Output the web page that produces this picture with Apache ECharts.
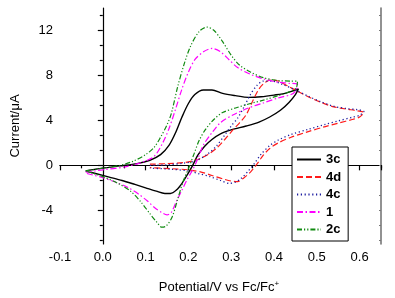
<!DOCTYPE html>
<html>
<head>
<meta charset="utf-8">
<script src="https://cdn.jsdelivr.net/npm/echarts@6/dist/echarts.min.js"></script>
<style>
  html, body { margin: 0; padding: 0; background: #fff; }
  #chart { width: 395px; height: 298px; }
</style>
</head>
<body>
<div id="chart"></div>
<script>
// cyclic voltammograms, [potential V vs Fc/Fc+, current uA]
const cv3c = [
  [-0.04, -0.5], [0.0, -0.25], [0.04, -0.05], [0.08, 0.15], [0.11, 0.45], [0.135, 0.95],
  [0.155, 1.8], [0.17, 2.9], [0.185, 4.3], [0.2, 5.5], [0.215, 6.3], [0.235, 6.7],
  [0.255, 6.7], [0.28, 6.4], [0.31, 6.2], [0.34, 6.05], [0.37, 6.1], [0.4, 6.25],
  [0.43, 6.45], [0.457, 6.8],
  [0.45, 6.3], [0.435, 5.6], [0.415, 4.9], [0.39, 4.3], [0.365, 3.85], [0.335, 3.5],
  [0.3, 3.15], [0.275, 2.8], [0.255, 2.3], [0.238, 1.7], [0.222, 0.9], [0.21, 0.0],
  [0.198, -0.8], [0.185, -1.6], [0.172, -2.2], [0.158, -2.5], [0.145, -2.5], [0.125, -2.3],
  [0.1, -2.0], [0.075, -1.7], [0.045, -1.35], [0.015, -1.05], [-0.015, -0.75], [-0.04, -0.5]
]
const cv4d = [
  [0.11, 0.1], [0.15, 0.15], [0.19, 0.25], [0.22, 0.5], [0.245, 0.95], [0.265, 1.5],
  [0.285, 2.3], [0.305, 3.2], [0.32, 3.8], [0.335, 4.5], [0.35, 5.7], [0.365, 6.8],
  [0.38, 7.4], [0.395, 7.6], [0.41, 7.5], [0.43, 7.1], [0.455, 6.6], [0.48, 6.1],
  [0.51, 5.6], [0.54, 5.2], [0.57, 5.0], [0.595, 4.85], [0.61, 4.7],
  [0.6, 4.3], [0.585, 4.1], [0.55, 3.75], [0.52, 3.45], [0.48, 3.0], [0.44, 2.5],
  [0.41, 2.0], [0.39, 1.5], [0.375, 0.9], [0.36, 0.1], [0.345, -0.6], [0.33, -1.1],
  [0.315, -1.45], [0.3, -1.4], [0.28, -1.2], [0.255, -0.9], [0.23, -0.6], [0.2, -0.4],
  [0.16, -0.3], [0.11, -0.2]
]
const cv4c = [
  [0.11, 0.0], [0.15, 0.05], [0.19, 0.2], [0.22, 0.45], [0.245, 1.0], [0.265, 1.7],
  [0.285, 2.7], [0.3, 3.5], [0.315, 4.2], [0.33, 5.2], [0.345, 6.3], [0.36, 7.1],
  [0.375, 7.5], [0.395, 7.5], [0.42, 7.2], [0.45, 6.7], [0.48, 6.15], [0.51, 5.65],
  [0.54, 5.25], [0.57, 5.05], [0.595, 4.95], [0.61, 4.8],
  [0.6, 4.45], [0.585, 4.3], [0.55, 3.95], [0.52, 3.65], [0.48, 3.2], [0.44, 2.75],
  [0.41, 2.25], [0.39, 1.75], [0.37, 1.0], [0.355, 0.2], [0.34, -0.5], [0.325, -1.1],
  [0.31, -1.5], [0.295, -1.6], [0.275, -1.35], [0.25, -1.0], [0.225, -0.75], [0.2, -0.5],
  [0.16, -0.35], [0.11, -0.25]
]
const cv1 = [
  [-0.04, -0.6], [0.0, -0.4], [0.05, -0.15], [0.09, 0.25], [0.12, 0.8], [0.14, 2.0],
  [0.155, 3.3], [0.17, 5.0], [0.185, 6.8], [0.2, 8.3], [0.215, 9.4], [0.235, 10.1],
  [0.255, 10.4], [0.275, 10.1], [0.295, 9.4], [0.315, 8.7], [0.345, 8.1], [0.375, 7.7],
  [0.41, 7.4], [0.435, 7.3], [0.455, 7.2],
  [0.45, 6.6], [0.44, 6.3], [0.41, 6.0], [0.375, 5.55], [0.34, 5.1], [0.305, 4.5],
  [0.275, 3.8], [0.255, 2.9], [0.235, 1.8], [0.222, 0.6], [0.21, -0.4], [0.198, -1.2],
  [0.185, -2.2], [0.172, -3.2], [0.16, -4.2], [0.15, -4.4], [0.138, -4.2], [0.122, -3.8],
  [0.105, -3.2], [0.085, -2.6], [0.06, -2.0], [0.03, -1.5], [0.0, -1.1], [-0.04, -0.7]
]
const cv2c = [
  [-0.04, -0.5], [0.0, -0.25], [0.04, 0.0], [0.07, 0.35], [0.1, 0.95], [0.12, 1.6],
  [0.135, 2.5], [0.15, 3.6], [0.16, 4.6], [0.175, 7.0], [0.19, 9.0], [0.205, 10.6],
  [0.225, 11.9], [0.243, 12.3], [0.26, 12.0], [0.28, 11.0], [0.3, 9.8], [0.32, 8.9],
  [0.345, 8.3], [0.375, 7.8], [0.41, 7.55], [0.44, 7.5], [0.455, 7.5],
  [0.452, 6.9], [0.44, 6.6], [0.41, 6.2], [0.375, 5.8], [0.345, 5.5], [0.31, 5.1],
  [0.28, 4.7], [0.26, 4.1], [0.24, 3.2], [0.225, 2.2], [0.213, 1.0], [0.2, -0.3],
  [0.188, -1.4], [0.175, -3.0], [0.162, -4.6], [0.148, -5.4], [0.138, -5.5], [0.125, -5.0],
  [0.11, -4.3], [0.09, -3.3], [0.065, -2.3], [0.035, -1.6], [0.0, -1.0], [-0.04, -0.5]
]

const yLabels = [-4, 0, 4, 8, 12]
const yMinor = [-6.667, -5.333, -2.667, -1.333, 1.333, 2.667, 5.333, 6.667, 9.333, 10.667, 13.333]

const font = 'Liberation Sans, Arial, sans-serif'
const black = { color: '#000', width: 1.2 }

function cvSeries (name, data, color, type, width) {
  return {
    name,
    type: 'line',
    data,
    smooth: 0.3,
    symbol: 'none',
    lineStyle: { color, type, width },
    itemStyle: { color },
    z: 3
  }
}

const chart = echarts.init(document.getElementById('chart'), null, { renderer: 'canvas' })
chart.setOption({
  animation: false,
  backgroundColor: '#fff',
  grid: { left: 60, top: 8, right: 14, bottom: 54, containLabel: false },
  xAxis: [
    {
      type: 'value', position: 'bottom', min: -0.1, max: 0.65, interval: 0.1,
      axisLine: { lineStyle: black },
      axisTick: { length: 5, lineStyle: black },
      minorTick: { show: true, splitNumber: 2, length: 3, lineStyle: black },
      splitLine: { show: false },
      axisLabel: {
        fontFamily: font, fontSize: 13, color: '#000', margin: 7,
        showMaxLabel: false,
        formatter: (v) => {
          const r = Math.round(v * 10)
          if (Math.abs(v * 10 - r) > 0.01) return ''
          return (r / 10).toFixed(1)
        }
      }
    },
    {
      type: 'value', position: 'top', min: -0.1, max: 0.65,
      axisLine: { lineStyle: black },
      axisTick: { show: false }, axisLabel: { show: false }, splitLine: { show: false }
    }
  ],
  yAxis: [
    {
      type: 'value', position: 'left', min: -7, max: 14,
      axisLine: { show: true, lineStyle: black },
      axisTick: { show: true, length: 5, lineStyle: black, customValues: yLabels },
      axisLabel: { fontFamily: font, fontSize: 13, color: '#000', margin: 7, customValues: yLabels },
      splitLine: { show: false }
    },
    {
      type: 'value', position: 'left', min: -7, max: 14,
      axisLine: { show: false },
      axisTick: { show: true, length: 3, lineStyle: black, customValues: yMinor },
      axisLabel: { show: false }, splitLine: { show: false }
    },
    {
      type: 'value', position: 'right', min: -7, max: 14,
      axisLine: { show: true, lineStyle: { color: '#777', width: 1.6 } },
      axisTick: { show: true, inside: true, length: 2, lineStyle: { color: '#777' }, customValues: yLabels.concat(yMinor) },
      axisLabel: { show: false }, splitLine: { show: false }
    }
  ],
  legend: {
    orient: 'vertical',
    left: 292, top: 147,
    padding: [6, 7, 5, 4],
    itemGap: 4.5,
    itemWidth: 24, itemHeight: 12,
    borderColor: '#000', borderWidth: 1,
    backgroundColor: '#fff',
    itemStyle: { opacity: 0 },
    textStyle: { fontFamily: font, fontSize: 13, fontWeight: 'bold', color: '#000', lineHeight: 12 },
    data: ['3c', '4d', '4c', '1', '2c']
  },
  graphic: [
    {
      type: 'text', x: 15, y: 126, rotation: Math.PI / 2,
      style: { text: 'Current/\u03bcA', font: '13px ' + font, fill: '#000', align: 'center', verticalAlign: 'middle' }
    },
    {
      type: 'text', x: 219, y: 287,
      style: {
        text: '{a|Potential/V vs Fc/Fc}{s|+}',
        align: 'center', verticalAlign: 'middle',
        rich: {
          a: { font: '13px ' + font, fill: '#000', lineHeight: 15 },
          s: { font: '8px ' + font, fill: '#000', lineHeight: 15, verticalAlign: 'top' }
        }
      }
    }
  ],
  series: [
    cvSeries('3c', cv3c, '#000000', 'solid', 1.4),
    cvSeries('4d', cv4d, '#ff1a1a', [6, 3], 1.2),
    cvSeries('4c', cv4c, '#1c1ca0', [1.2, 2.6], 1.3),
    cvSeries('1', cv1, '#ff00ff', [6, 2.5, 1.5, 2.5], 1.2),
    cvSeries('2c', cv2c, '#108a10', [5, 2, 1.2, 2, 1.2, 2], 1.2)
  ]
})
</script>
</body>
</html>
